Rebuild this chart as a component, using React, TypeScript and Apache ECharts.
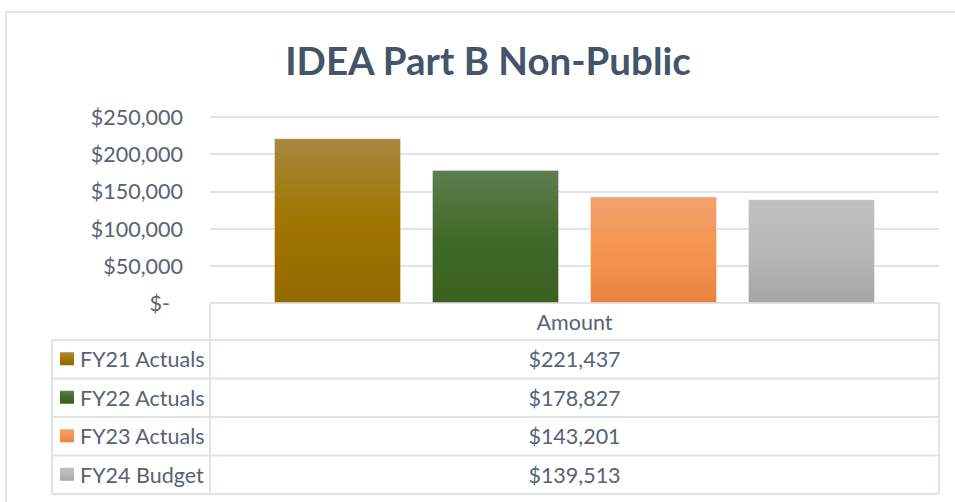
import React, { useEffect, useRef } from "react";
import * as echarts from "echarts";

const title = "IDEA Part B Non-Public";
const category = ["Amount"];
const seriesNames = ["FY21 Actuals", "FY22 Actuals", "FY23 Actuals", "FY24 Budget"];
const seriesValues = [221437, 178827, 143201, 139513];
const yTicks = [0, 50000, 100000, 150000, 200000, 250000];
const gradients = [
  ["#a9873f", "#a07500", "#946a00"],
  ["#5f7d50", "#416a28", "#3a6020"],
  ["#f2a16e", "#f69551", "#e8843f"],
  ["#c0c0c0", "#b8b8b8", "#a5a5a5"],
];

const FONT = "Lato, 'Noto Sans', sans-serif";
const TEXT = "#576275";
const LINE = "#dfe3ea";
const FS = 21.5;

const fmt = (v: number) => "$" + v.toLocaleString("en-US");

export default function App() {
  const ref = useRef<HTMLDivElement>(null);
  useEffect(() => {
    if (!ref.current) return;
    const chart = echarts.init(ref.current, undefined, { renderer: "svg" });
    const gl = 210, gr = 939, gt = 117, gb = 303;
    const rowY = [303, 340, 378.5, 417, 455.5, 494];
    const tableLeft = 52;
    const graphics: any[] = [];
    const ln = (x1: number, y1: number, x2: number, y2: number) =>
      graphics.push({ type: "line", shape: { x1, y1, x2, y2 }, style: { stroke: LINE, lineWidth: 2 }, silent: true });
    // outer frame
    ln(6, 12, 955, 12);
    ln(6, 12, 6, 502);
    // table lines
    for (let i = 1; i < rowY.length; i++) ln(tableLeft, rowY[i], gr, rowY[i]);
    ln(gl, gb, gl, rowY[5]);
    ln(gr, gb, gr, rowY[5]);
    ln(tableLeft, rowY[1], tableLeft, rowY[5]);
    // values and legend keys
    seriesValues.forEach((v, i) => {
      const cy = (rowY[i + 1] + rowY[i + 2]) / 2;
      graphics.push({
        type: "text",
        x: (gl + gr) / 2,
        y: cy,
        style: { text: fmt(v), fill: TEXT, font: `${FS}px ${FONT}`, align: "center", verticalAlign: "middle" },
        silent: true,
      });
      graphics.push({
        type: "rect",
        shape: { x: 60, y: cy - 7, width: 14, height: 13 },
        style: {
          fill: new echarts.graphic.LinearGradient(0, 0, 0, 1, [
            { offset: 0, color: gradients[i][0] },
            { offset: 0.5, color: gradients[i][1] },
            { offset: 1, color: gradients[i][2] },
          ]),
        },
        silent: true,
      });
      graphics.push({
        type: "text",
        x: 80,
        y: cy,
        style: { text: seriesNames[i], fill: TEXT, font: `${FS}px ${FONT}`, align: "left", verticalAlign: "middle" },
        silent: true,
      });
    });

    chart.setOption({
      animation: false,
      title: {
        text: title,
        left: 483,
        top: 35,
        textAlign: "center",
        textStyle: { fontFamily: FONT, fontWeight: "bold", fontSize: 38.5, color: "#44546a" },
      },
      grid: { left: gl, right: 955 - gr, top: gt, bottom: 502 - gb, containLabel: false },
      legend: { show: false, data: seriesNames },
      xAxis: {
        type: "category",
        data: category,
        axisLine: { show: true, lineStyle: { color: LINE, width: 2 } },
        axisTick: { show: false },
        axisLabel: { margin: 8, fontFamily: FONT, fontSize: FS, color: TEXT },
        splitLine: { show: false },
      },
      yAxis: {
        type: "value",
        min: yTicks[0],
        max: yTicks[yTicks.length - 1],
        interval: yTicks[1] - yTicks[0],
        axisLine: { show: false },
        axisTick: { show: false },
        splitLine: { lineStyle: { color: LINE, width: 2 } },
        axisLabel: {
          margin: 27,
          fontFamily: FONT,
          fontSize: FS,
          color: TEXT,
          formatter: (v: number) => (v === 0 ? "{z|$-}" : fmt(v)),
          rich: { z: { fontFamily: FONT, fontSize: FS, color: TEXT, padding: [0, 13, 0, 0] } },
        },
      },
      series: seriesNames.map((name, i) => ({
        name,
        type: "bar",
        barWidth: 127,
        barGap: "24.4%",
        data: [seriesValues[i]],
        itemStyle: {
          color: new echarts.graphic.LinearGradient(0, 0, 0, 1, [
            { offset: 0, color: gradients[i][0] },
            { offset: 0.5, color: gradients[i][1] },
            { offset: 1, color: gradients[i][2] },
          ]),
          borderColor: "rgba(255,255,255,0.35)",
          borderWidth: 1,
        },
      })),
      graphic: graphics,
    });
    return () => chart.dispose();
  }, []);
  return <div ref={ref} style={{ width: 955, height: 502, position: "absolute", left: 0, top: 0 }} />;
}
